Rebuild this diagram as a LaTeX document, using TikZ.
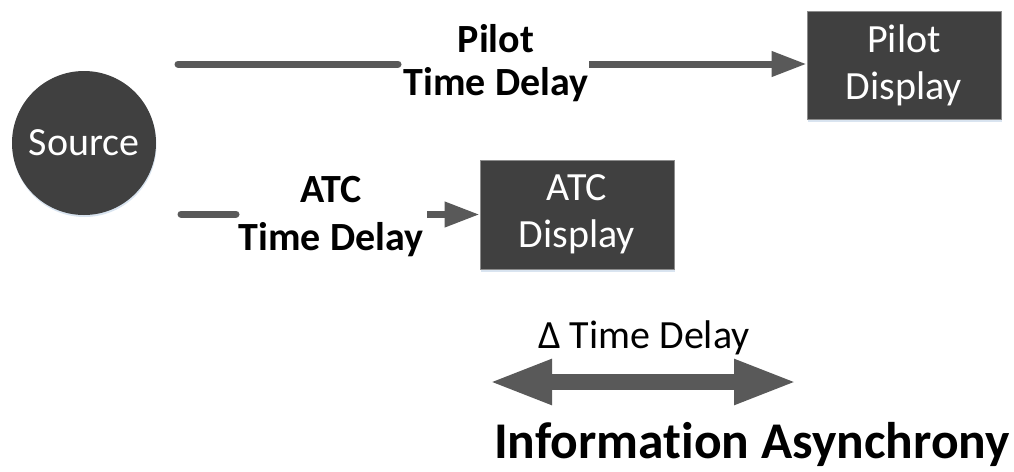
\documentclass[tikz,border=0pt]{standalone}
\usepackage{fontspec}
\setmainfont{Carlito}[Ligatures={NoCommon}]
\usetikzlibrary{arrows.meta,shadows}
\definecolor{boxfill}{HTML}{404040}
\definecolor{boxline}{HTML}{8C8C8C}
\definecolor{arrowcol}{HTML}{595959}
\definecolor{shadowcol}{HTML}{D5E1EE}
\begin{document}
\begin{tikzpicture}[x=1pt,y=-1pt,
  darkbox/.style={rectangle,fill=boxfill,draw=boxline,line width=0.8pt,text=white,
    minimum width=194pt,minimum height=108pt,inner sep=0pt,align=center,
    font=\fontsize{40}{47}\selectfont,
    drop shadow={shadow xshift=1pt,shadow yshift=-2.5pt,fill=shadowcol,opacity=0.9}},
  srcnode/.style={circle,fill=boxfill,minimum size=144pt,inner sep=0pt,text=white,
    font=\fontsize{40}{46}\selectfont,
    drop shadow={shadow xshift=0.5pt,shadow yshift=-2pt,fill=shadowcol,opacity=0.9}},
  delaylab/.style={align=center,inner sep=0pt,font=\bfseries\fontsize{40}{43}\selectfont},
  conn/.style={draw=arrowcol,line width=7pt},
  connarrow/.style={conn,-{Triangle[length=35pt,width=24pt]}},
  bigarrow/.style={draw=arrowcol,line width=16pt,
    {Triangle[length=64pt,width=41pt]}-{Triangle[length=64pt,width=41pt]}}
]
\useasboundingbox (0,0) rectangle (1014,471);

\node[srcnode] (src) at (84,143) {Source};
\node[darkbox] (pilot) at (904,65) {Pilot\\Display};
\node[darkbox,minimum height=109pt] (atc) at (577,214.5) {ATC\\Display};

\node[delaylab,anchor=base] (pilotlab) at (496,95) {Pilot\\Time Delay};
\node[delaylab,anchor=base,font=\bfseries\fontsize{40}{48}\selectfont] (atclab) at (331,250) {ATC\\Time Delay};

\coordinate (p0) at (178,64);
\coordinate (p1) at (398,64);
\coordinate (p2) at (589,64);
\draw[conn,line cap=round] (p0) -- (p1);
\draw[connarrow] (p2) -- (pilot.west |- p2);

\coordinate (a0) at (181,214);
\coordinate (a1) at (236,214);
\coordinate (a2) at (427,214.5);
\draw[conn,line cap=round] (a0) -- (a1);
\draw[connarrow] (a2) -- (atc.west |- a2);

\node[anchor=base,inner sep=0pt,font=\fontsize{40}{46}\selectfont] (dlab) at (644,348) {Δ Time Delay};
\coordinate (d1) at (488,382);
\coordinate (d2) at (798,382);
\draw[bigarrow] (d1) -- (d2);

\node[anchor=base,inner sep=0pt,font=\bfseries\fontsize{51.5}{60}\selectfont] (title) at (752,458) {Information Asynchrony};
\end{tikzpicture}
\end{document}
